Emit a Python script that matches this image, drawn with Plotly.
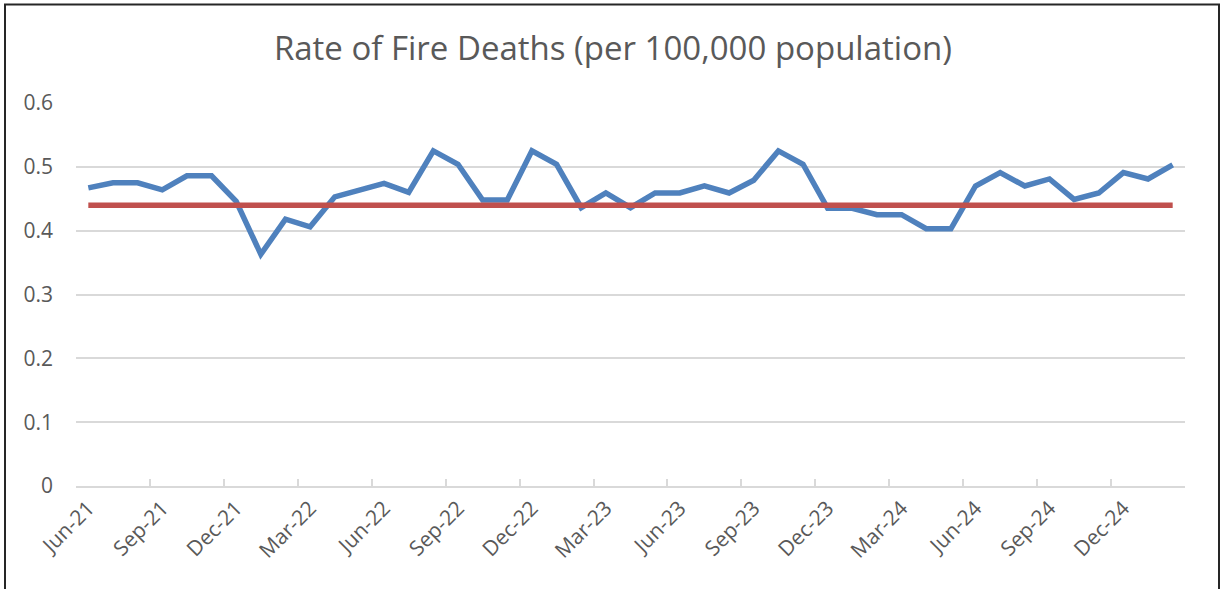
import plotly.graph_objects as go

months = [
    "Jun-21", "Jul-21", "Aug-21", "Sep-21", "Oct-21", "Nov-21", "Dec-21",
    "Jan-22", "Feb-22", "Mar-22", "Apr-22", "May-22", "Jun-22", "Jul-22",
    "Aug-22", "Sep-22", "Oct-22", "Nov-22", "Dec-22",
    "Jan-23", "Feb-23", "Mar-23", "Apr-23", "May-23", "Jun-23", "Jul-23",
    "Aug-23", "Sep-23", "Oct-23", "Nov-23", "Dec-23",
    "Jan-24", "Feb-24", "Mar-24", "Apr-24", "May-24", "Jun-24", "Jul-24",
    "Aug-24", "Sep-24", "Oct-24", "Nov-24", "Dec-24",
    "Jan-25", "Feb-25",
]

rate = [
    0.467, 0.475, 0.475, 0.464, 0.486, 0.486, 0.446,
    0.363, 0.418, 0.406, 0.453, 0.464, 0.474, 0.460,
    0.525, 0.504, 0.448, 0.448, 0.525,
    0.504, 0.436, 0.459, 0.436, 0.459, 0.459, 0.470,
    0.459, 0.479, 0.525, 0.504, 0.435,
    0.435, 0.425, 0.425, 0.403, 0.403, 0.470, 0.491,
    0.470, 0.481, 0.449, 0.459, 0.491,
    0.481, 0.503,
]

mean_rate = [0.440] * len(months)

tick_labels = months[::3]
y_ticks = [0, 0.1, 0.2, 0.3, 0.4, 0.5, 0.6]

n = len(months)
boundary_ticks = [i - 0.5 for i in range(0, n + 1, 3)]

fig = go.Figure()
fig.add_trace(go.Scatter(
    x=months, y=rate, mode="lines",
    line=dict(color="#4F81BD", width=5.5), name="Rate",
))
fig.add_trace(go.Scatter(
    x=months, y=mean_rate, mode="lines",
    line=dict(color="#C0504D", width=5.5), name="Mean",
))
# invisible helper trace so the tick-mark axis is drawn
fig.add_trace(go.Scatter(
    x=[-0.5, n - 0.5], y=[0, 0], mode="lines", xaxis="x2",
    line=dict(width=0), hoverinfo="skip", showlegend=False,
))

W, H = 1221, 589
ml, mr, mt, mb = 76, 36, 103, 103
pw = W - ml - mr
ph = H - mt - mb

def px_x(p):
    return (p - ml) / pw

def px_y(p):
    return (H - mb - p) / ph

fig.update_layout(
    width=W, height=H,
    margin=dict(l=ml, r=mr, t=mt, b=mb),
    paper_bgcolor="white", plot_bgcolor="white",
    showlegend=False,
    font=dict(family="Open Sans", color="#595959", size=21),
    title=dict(
        text="Rate of Fire Deaths (per 100,000 population)",
        x=0.502, xref="container", xanchor="center",
        y=1 - 48 / H, yref="container", yanchor="middle",
        font=dict(family="Open Sans", size=33, color="#595959"),
    ),
    xaxis=dict(
        type="category",
        range=[-0.5, n - 0.5],
        tickmode="array", tickvals=tick_labels, ticktext=tick_labels,
        ticks="",
        showline=True, linecolor="#D9D9D9", linewidth=1.5,
        showgrid=False, zeroline=False,
        tickangle=-45,
        tickfont=dict(size=21, color="#595959"),
    ),
    xaxis2=dict(
        overlaying="x", anchor="y", side="bottom",
        range=[-0.5, n - 0.5],
        tickmode="array", tickvals=boundary_ticks,
        showticklabels=False,
        ticks="inside", ticklen=7, tickcolor="#D9D9D9", tickwidth=1.5,
        showline=False, showgrid=False, zeroline=False,
    ),
    yaxis=dict(
        range=[0, 0.6],
        tickmode="array", tickvals=y_ticks,
        showgrid=True, gridcolor="#D9D9D9", gridwidth=1.5,
        zeroline=False, showline=False, ticks="",
        ticklabelstandoff=22,
        tickfont=dict(size=21, color="#595959"),
    ),
    shapes=[dict(
        type="rect", xref="paper", yref="paper",
        x0=px_x(5), x1=px_x(1219), y0=px_y(600), y1=px_y(4.5),
        line=dict(color="#262626", width=2), fillcolor="rgba(0,0,0,0)",
        layer="above",
    )],
)

fig.write_html(
    "out.html",
    config={"displayModeBar": False},
    post_script="document.body.style.margin='0';",
)
